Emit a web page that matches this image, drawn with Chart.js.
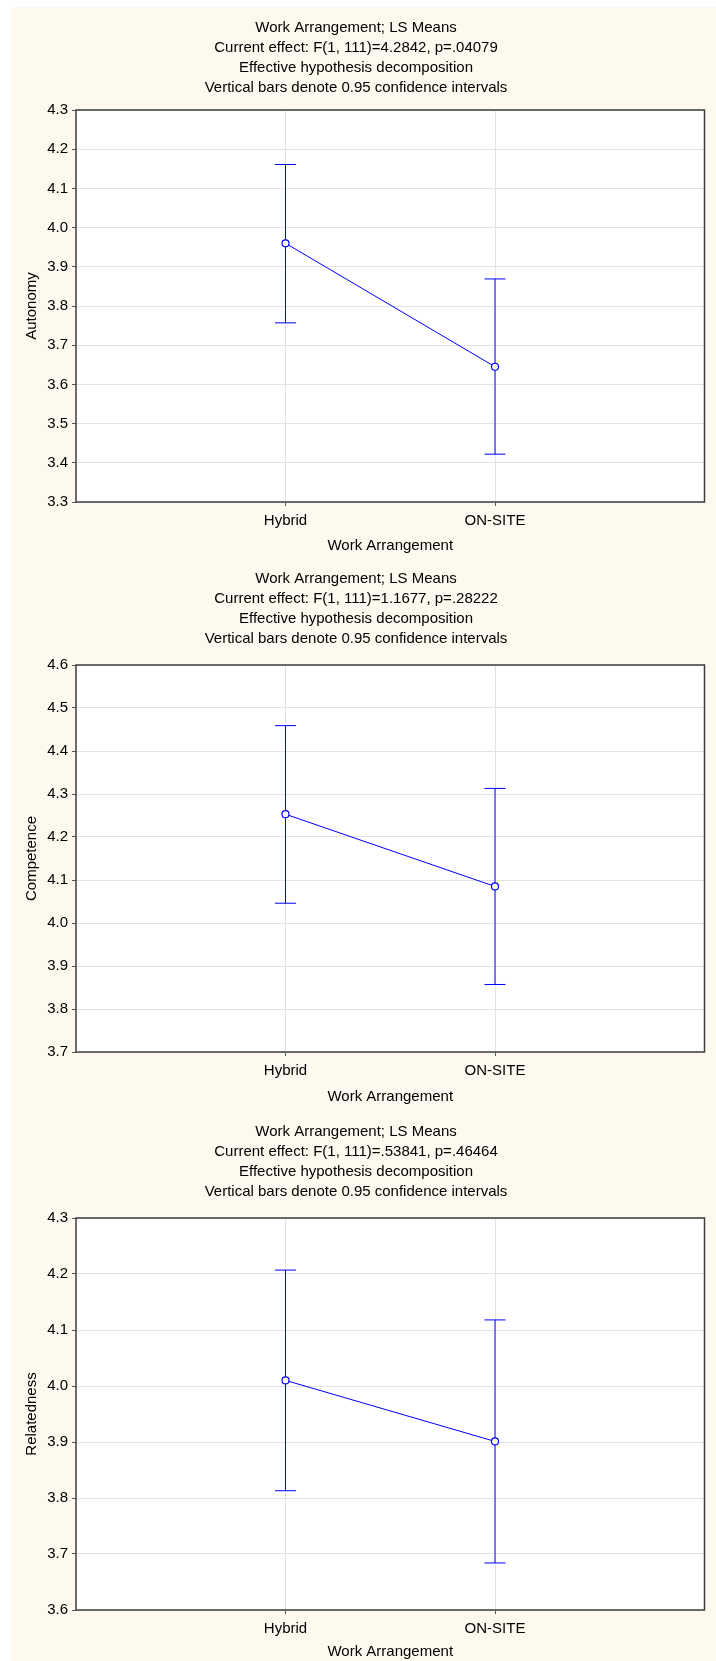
<!DOCTYPE html>
<html>
<head>
<meta charset="utf-8">
<script src="https://cdn.jsdelivr.net/npm/chart.js@4.4.1/dist/chart.umd.min.js"></script>
<style>
  body { margin: 0; background: #fff; overflow: hidden; }
  #page { position: relative; width: 716px; height: 1661px; background: #fff; overflow: hidden; }
  #cream { position: absolute; left: 11px; top: 7px; right: 0; bottom: 0; background: #fef9ee; }
  .panel { position: absolute; left: 0; width: 716px; height: 560px; }
</style>
</head>
<body>
<div id="page">
  <div id="cream"></div>
  <div class="panel" style="top:0px"><canvas id="c1"></canvas></div>
  <div class="panel" style="top:555px"><canvas id="c2"></canvas></div>
  <div class="panel" style="top:1108px"><canvas id="c3"></canvas></div>
</div>
<script>
// data
var categories = ["Hybrid", "ON-SITE"];
var xTitle = "Work Arrangement";

var autonomyMean = [3.960, 3.645];
var autonomyLow = [3.757, 3.422];
var autonomyHigh = [4.161, 3.869];
var autonomyTitle = ["Work Arrangement; LS Means", "Current effect: F(1, 111)=4.2842, p=.04079",
  "Effective hypothesis decomposition", "Vertical bars denote 0.95 confidence intervals"];

var competenceMean = [4.253, 4.085];
var competenceLow = [4.046, 3.857];
var competenceHigh = [4.459, 4.313];
var competenceTitle = ["Work Arrangement; LS Means", "Current effect: F(1, 111)=1.1677, p=.28222",
  "Effective hypothesis decomposition", "Vertical bars denote 0.95 confidence intervals"];

var relatednessMean = [4.010, 3.901];
var relatednessLow = [3.813, 3.684];
var relatednessHigh = [4.207, 4.118];
var relatednessTitle = ["Work Arrangement; LS Means", "Current effect: F(1, 111)=.53841, p=.46464",
  "Effective hypothesis decomposition", "Vertical bars denote 0.95 confidence intervals"];

Chart.defaults.font.family = "'Liberation Sans', Arial, sans-serif";
Chart.defaults.font.size = 15;
Chart.defaults.color = "#000";

var BLUE = "#0000ff";
var GRID = "#e2e2e2";

// white plot area + dark frame round it
var frame = {
  id: "frame",
  beforeDraw: function (chart) {
    var a = chart.chartArea, c = chart.ctx;
    c.save();
    c.fillStyle = "#fff";
    c.fillRect(a.left, a.top, a.right - a.left, a.bottom - a.top);
    c.restore();
  },
  afterDatasetsDraw: function (chart) {
    var a = chart.chartArea, c = chart.ctx;
    c.save();
    c.strokeStyle = "#3c3c3c";
    c.lineWidth = 1.5;
    c.strokeRect(a.left, a.top, a.right - a.left, a.bottom - a.top);
    c.restore();
  }
};

function makeChart(id, yLabel, yMin, yMax, mean, low, high, title, titleTop, xHeight, xTitlePad) {
  var datasets = [{
    data: mean.map(function (v, i) { return { x: i + 1, y: v }; }),
    borderColor: BLUE,
    borderWidth: 1,
    pointStyle: "circle",
    pointRadius: 3.5,
    pointBorderWidth: 1.2,
    pointBackgroundColor: "#fff",
    pointBorderColor: BLUE,
    order: 0
  }];
  categories.forEach(function (c, i) {
    datasets.push({
      data: [{ x: i + 1, y: low[i] }, { x: i + 1, y: high[i] }],
      borderColor: BLUE,
      borderWidth: 1,
      pointStyle: "line",
      pointRadius: 10.5,
      pointBorderWidth: 1,
      pointBorderColor: BLUE,
      order: 1
    });
  });

  var isCat = function (ctx) { return ctx.tick && (ctx.tick.value === 1 || ctx.tick.value === 2); };

  return new Chart(document.getElementById(id), {
    type: "line",
    data: { datasets: datasets },
    plugins: [frame],
    options: {
      responsive: true,
      maintainAspectRatio: false,
      animation: false,
      layout: { padding: { left: 0, right: 4, top: 0, bottom: 0 } },
      plugins: {
        legend: { display: false },
        tooltip: { enabled: false },
        title: {
          display: true,
          text: title,
          font: { size: 15, weight: "normal", lineHeight: "20px" },
          color: "#000",
          padding: { top: titleTop, bottom: 30 - titleTop }
        }
      },
      scales: {
        x: {
          type: "linear",
          min: 0, max: 3,
          afterFit: function (axis) { axis.height = xHeight; },
          ticks: {
            stepSize: 1,
            padding: 6,
            callback: function (v) { return categories[v - 1] || ""; }
          },
          grid: {
            color: function (ctx) { return isCat(ctx) ? GRID : "transparent"; },
            tickColor: function (ctx) { return isCat(ctx) ? "#555" : "transparent"; },
            tickLength: 4
          },
          border: { display: false },
          title: { display: true, text: xTitle, padding: { top: 0, bottom: xTitlePad } }
        },
        y: {
          min: yMin, max: yMax,
          afterFit: function (axis) { axis.width = 76; },
          ticks: {
            stepSize: 0.1,
            padding: 4,
            callback: function (v) { return v.toFixed(1); }
          },
          grid: { color: GRID, tickColor: "#555", tickLength: 4 },
          border: { display: false },
          title: { display: true, text: yLabel, padding: { top: 23, bottom: 0 } }
        }
      }
    }
  });
}

makeChart("c1", "Autonomy", 3.3, 4.3, autonomyMean, autonomyLow, autonomyHigh, autonomyTitle, 18, 58, 5);
makeChart("c2", "Competence", 3.7, 4.6, competenceMean, competenceLow, competenceHigh, competenceTitle, 14, 63, 9);
makeChart("c3", "Relatedness", 3.6, 4.3, relatednessMean, relatednessLow, relatednessHigh, relatednessTitle, 14, 58, 7);
</script>
</body>
</html>
